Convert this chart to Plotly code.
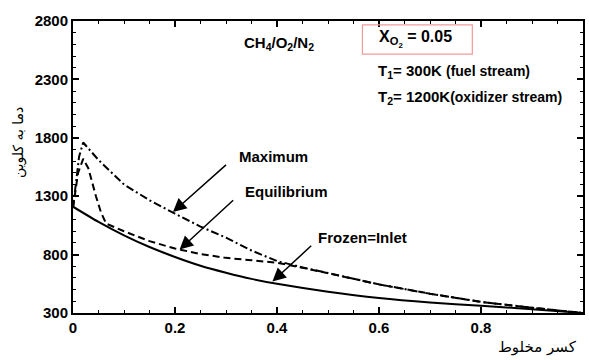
import plotly.graph_objects as go

# ---- data ----
frozen_x = [0, 0.05, 0.1, 0.15, 0.2, 0.25, 0.3, 0.35, 0.4, 0.5, 0.6, 0.7, 0.8, 0.9, 1.0]
frozen_T = [1210, 1080, 965, 865, 780, 705, 645, 592, 550, 482, 428, 390, 362, 333, 300]

equil_x = [0, 0.004, 0.01, 0.02, 0.03, 0.045, 0.055, 0.065, 0.1, 0.15, 0.2, 0.25, 0.3, 0.35, 0.4,
           0.45, 0.5, 0.6, 0.7, 0.8, 0.9, 0.97, 1.0]
equil_T = [1200, 1330, 1500, 1620, 1540, 1300, 1160, 1065, 1000, 915, 852, 805, 772, 752, 730,
           688, 642, 545, 465, 395, 345, 315, 300]

max_x = [0, 0.006, 0.012, 0.02, 0.05, 0.1, 0.15, 0.2, 0.25, 0.3, 0.35, 0.4,
         0.45, 0.5, 0.6, 0.7, 0.8, 0.9, 0.97, 1.0]
max_T = [1200, 1420, 1640, 1760, 1610, 1400, 1265, 1150, 1040, 945, 835, 745,
         690, 642, 545, 465, 395, 345, 315, 300]

x_ticks = [0, 0.2, 0.4, 0.6, 0.8]
x_tick_labels = ["0", "0.2", "0.4", "0.6", "0.8"]
y_ticks = [300, 800, 1300, 1800, 2300, 2800]
y_tick_labels = ["300", "800", "1300", "1800", "2300", "2800"]

x_title = "کسر مخلوط"
y_title = "دما به کلوین"

FONT = "Liberation Sans, Arial, Helvetica, sans-serif"
FA_FONT = "DejaVu Sans, Noto Sans, sans-serif"

fig = go.Figure()
fig.add_trace(go.Scatter(x=frozen_x, y=frozen_T, mode="lines", name="Frozen=Inlet",
                         line=dict(color="black", width=2, shape="spline", smoothing=0.6)))
fig.add_trace(go.Scatter(x=equil_x, y=equil_T, mode="lines", name="Equilibrium",
                         line=dict(color="black", width=2, dash="7px,4px")))
fig.add_trace(go.Scatter(x=max_x, y=max_T, mode="lines", name="Maximum",
                         line=dict(color="black", width=2, dash="8px,3px,2px,3px")))

axis_common = dict(showline=True, linewidth=2, linecolor="black", mirror="ticks",
                   ticks="inside", ticklen=6, tickwidth=1.5, tickcolor="black",
                   showgrid=False, zeroline=False,
                   tickfont=dict(family=FONT, size=15, color="black"))

fig.update_xaxes(range=[0, 1], tickvals=x_ticks, ticktext=["<b>%s</b>" % t for t in x_tick_labels],
                 minor=dict(dtick=0.05, ticks="inside", ticklen=3, tickcolor="black", tickwidth=1,
                            showgrid=False),
                 **axis_common)
fig.update_yaxes(range=[300, 2800], tickvals=y_ticks, ticktext=["<b>%s</b>" % t for t in y_tick_labels],
                 minor=dict(dtick=100, ticks="inside", ticklen=3, tickcolor="black", tickwidth=1,
                            showgrid=False),
                 **axis_common)

lab_font = dict(family=FONT, size=15, color="black")
arrow = dict(text="", showarrow=True, axref="x", ayref="y",
             arrowhead=2, arrowsize=1.8, arrowwidth=1.5, arrowcolor="black")

annotations = [
    # curve labels
    dict(x=0.321, y=1641, text="<b>Maximum</b>", showarrow=False, xanchor="left", yanchor="middle", font=lab_font),
    dict(x=0.333, y=1337, text="<b>Equilibrium</b>", showarrow=False, xanchor="left", yanchor="middle", font=lab_font),
    dict(x=0.477, y=947, text="<b>Frozen=Inlet</b>", showarrow=False, xanchor="left", yanchor="middle", font=lab_font),
    # arrows
    dict(x=0.196, y=1164, ax=0.303, ay=1580, **arrow),
    dict(x=0.209, y=843, ax=0.317, ay=1277, **arrow),
    dict(x=0.391, y=569, ax=0.470, ay=887, **arrow),
    # info texts
    dict(x=0.332, y=2611, text="<b>CH<sub>4</sub>/O<sub>2</sub>/N<sub>2</sub></b>", showarrow=False,
         xanchor="left", yanchor="middle", font=dict(family=FONT, size=15, color="black")),
    dict(x=0.597, y=2650, text="<b>X<sub>O<sub>2</sub></sub> = 0.05</b>", showarrow=False,
         xanchor="left", yanchor="middle", font=dict(family=FONT, size=16, color="black")),
    dict(x=0.595, y=2369, text="<b>T<sub>1</sub>= 300K <span style='font-size:14px'>(fuel stream)</span></b>",
         showarrow=False, xanchor="left", yanchor="middle", font=dict(family=FONT, size=15, color="black")),
    dict(x=0.595, y=2143, text="<b>T<sub>2</sub>= 1200K<span style='font-size:14px'>(oxidizer stream)</span></b>",
         showarrow=False, xanchor="left", yanchor="middle", font=dict(family=FONT, size=15, color="black")),
    # axis titles
    dict(xref="paper", yref="paper", x=0, xshift=-55, y=0.582, text=y_title, textangle=-90,
         showarrow=False, xanchor="center", yanchor="middle",
         font=dict(family=FA_FONT, size=14, color="black")),
    dict(xref="paper", yref="paper", x=0.910, y=-0.116, text=x_title,
         showarrow=False, xanchor="center", yanchor="middle",
         font=dict(family=FA_FONT, size=15, color="black")),
]

fig.update_layout(
    width=589, height=360,
    margin=dict(l=73, r=4, t=21, b=47),
    paper_bgcolor="white", plot_bgcolor="white",
    showlegend=False,
    annotations=annotations,
    shapes=[dict(type="rect", xref="x", yref="y", x0=0.5675, x1=0.783, y0=2516, y1=2767,
                 line=dict(color="#f29a9a", width=1.2), fillcolor="rgba(0,0,0,0)")],
)

fig.write_html("out.html", config={"displayModeBar": False},
               post_script="document.body.style.margin='0';")
